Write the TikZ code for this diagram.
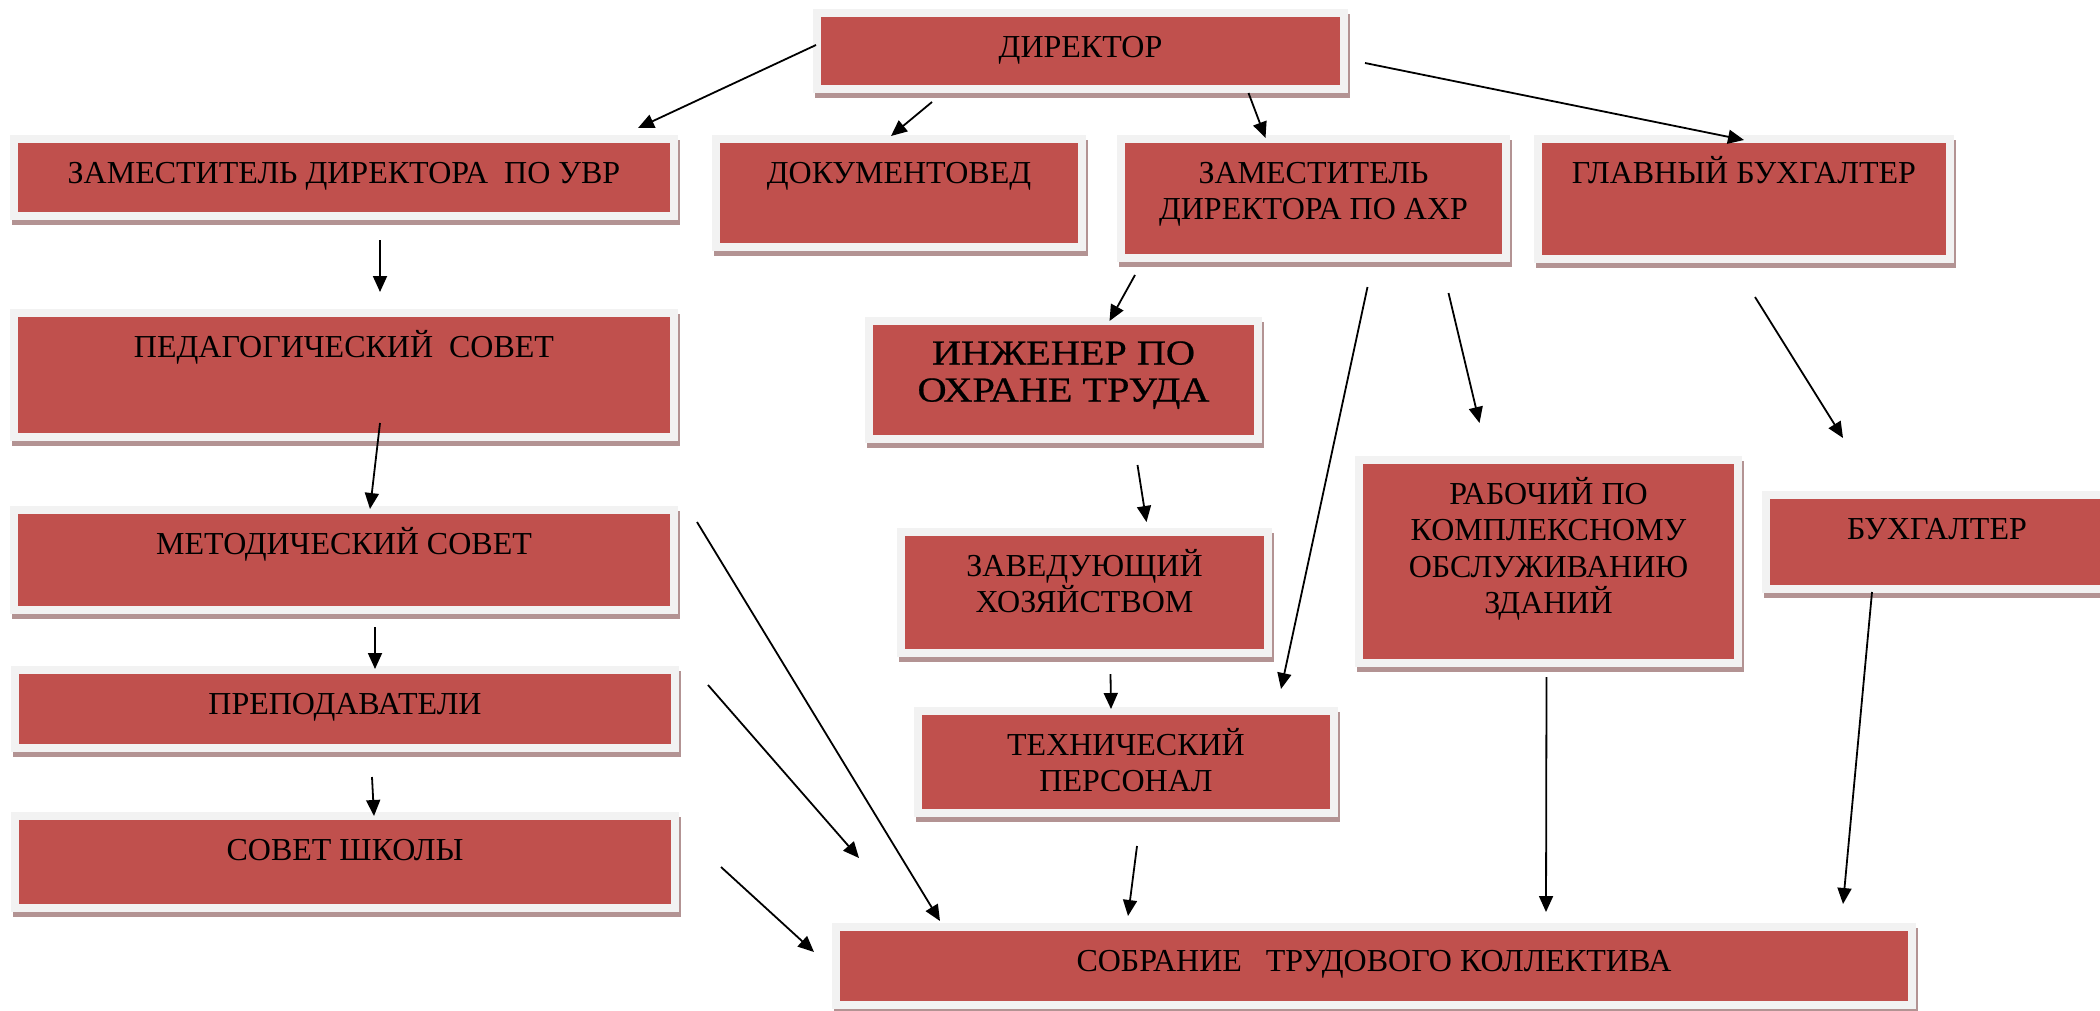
\documentclass[tikz,border=0pt]{standalone}
\usepackage{fontspec}
\setmainfont{Liberation Serif}
\newfontfamily\widefont[FakeStretch=1.15,FakeBold=0.6]{Liberation Serif}
\usetikzlibrary{arrows.meta,backgrounds}
\definecolor{boxred}{HTML}{C0504D}
\definecolor{boxframe}{HTML}{F2F2F2}
\definecolor{boxshadow}{HTML}{B39393}
\tikzset{
  box/.style={rectangle, fill=boxred, anchor=north west, inner sep=0pt, outer sep=0pt,
    align=center, text height=40pt, font=\fontsize{32}{36.5}\selectfont},
  % text height grows with every extra line
  twolines/.style={text height=76.5pt},
  fourlines/.style={text height=149.5pt},
  arr/.style={-{Triangle[length=16pt,width=14pt]}, line width=1.8pt}
}
\begin{document}
\begin{tikzpicture}[x=1pt,y=-1pt]
  \useasboundingbox (0,0) rectangle (2100,1010);
  % the boxes (top left corner of the red part)
  \node[box, minimum width=519pt, text depth=28pt] (dir) at (821,17) {ДИРЕКТОР};
  \node[box, minimum width=652pt, text depth=29pt] (uvr) at (18,143) {ЗАМЕСТИТЕЛЬ ДИРЕКТОРА~~ПО УВР};
  \node[box, minimum width=358pt, text depth=60pt] (doc) at (720,143) {ДОКУМЕНТОВЕД};
  \node[box, twolines, minimum width=377pt, text depth=34.5pt] (ahr) at (1125,143) {ЗАМЕСТИТЕЛЬ\\ДИРЕКТОРА ПО АХР};
  \node[box, minimum width=404pt, text depth=72pt] (glb) at (1542,143) {ГЛАВНЫЙ БУХГАЛТЕР};
  \node[box, minimum width=652pt, text depth=76pt] (ped) at (18,317) {ПЕДАГОГИЧЕСКИЙ~~СОВЕТ};
  \node[box, twolines, minimum width=381pt, text depth=33.5pt,
    font=\widefont\fontsize{35}{37}\selectfont] (inzh) at (873,325) {ИНЖЕНЕР ПО\\ОХРАНЕ ТРУДА};
  \node[box, minimum width=652pt, text depth=52pt] (met) at (18,514) {МЕТОДИЧЕСКИЙ СОВЕТ};
  \node[box, twolines, minimum width=359pt, text depth=36.5pt] (zav) at (905,536) {ЗАВЕДУЮЩИЙ\\ХОЗЯЙСТВОМ};
  \node[box, fourlines, minimum width=371pt, text depth=45.5pt] (rab) at (1363,464) {РАБОЧИЙ ПО\\КОМПЛЕКСНОМУ\\ОБСЛУЖИВАНИЮ\\ЗДАНИЙ};
  \node[box, minimum width=334pt, text depth=46pt] (buh) at (1770,499) {БУХГАЛТЕР};
  \node[box, minimum width=652pt, text depth=30pt] (prep) at (19,674) {ПРЕПОДАВАТЕЛИ};
  \node[box, twolines, minimum width=408pt, text depth=17.5pt] (tech) at (922,715) {ТЕХНИЧЕСКИЙ\\ПЕРСОНАЛ};
  \node[box, minimum width=652pt, text depth=44pt] (sov) at (19,820) {СОВЕТ ШКОЛЫ};
  \node[box, minimum width=1068pt, text depth=30pt] (sobr) at (840,931) {СОБРАНИЕ~~~ТРУДОВОГО КОЛЛЕКТИВА};

  % frame and shadow behind every box
  \begin{scope}[on background layer]
    \foreach \n in {dir,uvr,doc,ahr,glb,ped,inzh,met,zav,rab,buh,prep,tech,sov,sobr}
    {
      \fill[boxshadow] ([shift={(-6,-3)}]\n.north west) rectangle ([shift={(10,13)}]\n.south east);
      \fill[boxframe] ([shift={(-8,-8)}]\n.north west) rectangle ([shift={(8,8)}]\n.south east);
    }
  \end{scope}

  % the arrows
  \draw[arr] ([shift={(-5,-6)}]dir.west) -- ([shift={(-32,-15)}]uvr.north east);
  \draw[arr] ([shift={(111,17)}]dir.south west) -- ([shift={(-8,-7)}]doc.north);
  \draw[arr] ([shift={(168,8)}]dir.south) -- ([shift={(-48,-5)}]ahr.north);
  \draw[arr] ([shift={(25,12)}]dir.east) -- ([shift={(0,-3)}]glb.north);
  \draw[arr] ([shift={(36,28)}]uvr.south) -- ([shift={(36,-25)}]ped.north);
  \draw[arr] ([shift={(36,-10)}]ped.south) -- ([shift={(26,-5)}]met.north);
  \draw[arr] ([shift={(31,21)}]met.south) -- ([shift={(30,-5)}]prep.north);
  \draw[arr] ([shift={(27,33)}]prep.south) -- ([shift={(29,-4)}]sov.north);
  \draw[arr] ([shift={(27,8)}]met.north east) -- ([shift={(100,-10)}]sobr.north west);
  \draw[arr] ([shift={(37,11)}]prep.north east) -- ([shift={(19,-73)}]sobr.north west);
  \draw[arr] ([shift={(50,5)}]sov.east) -- ([shift={(-26,-14)}]sobr.west);
  \draw[arr] ([shift={(10,21)}]ahr.south west) -- ([shift={(46,-4)}]inzh.north);
  \draw[arr] ([shift={(54,33)}]ahr.south) -- ([shift={(-49,-26)}]tech.north east);
  \draw[arr] ([shift={(135,39)}]ahr.south) -- ([shift={(-69,-41)}]rab.north);
  \draw[arr] ([shift={(11,42)}]glb.south) -- ([shift={(73,-61)}]buh.north west);
  \draw[arr] ([shift={(74,30)}]inzh.south) -- ([shift={(62,-14)}]zav.north);
  \draw[arr] ([shift={(26,25)}]zav.south) -- ([shift={(-15,-6)}]tech.north);
  \draw[arr] ([shift={(11,37)}]tech.south) -- ([shift={(-246,-15)}]sobr.north);
  \draw[arr] ([shift={(-2,18)}]rab.south) -- ([shift={(172,-19)}]sobr.north);
  \draw[arr] ([shift={(102,7)}]buh.south west) -- ([shift={(-65,-27)}]sobr.north east);
\end{tikzpicture}
\end{document}
